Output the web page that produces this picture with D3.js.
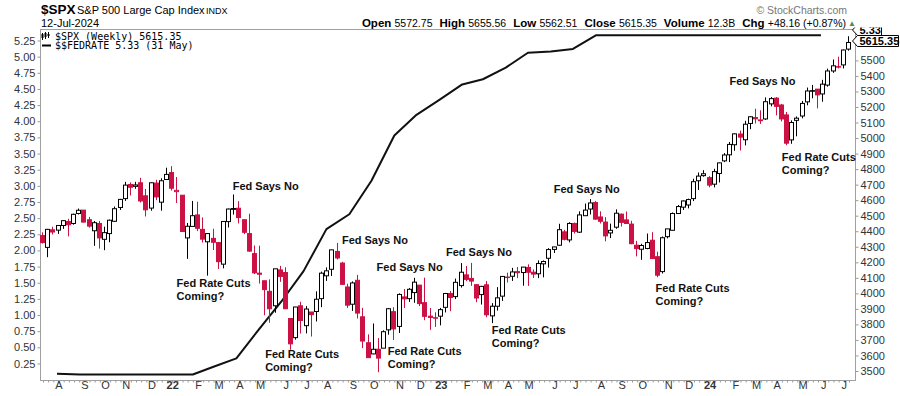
<!DOCTYPE html>
<html>
<head>
<meta charset="utf-8">
<script src="https://cdn.jsdelivr.net/npm/d3@7"></script>
<style>
  body { margin: 0; background: #fff; }
  svg { display: block; font-family: "Liberation Sans", Arial, sans-serif; }
</style>
</head>
<body>
<svg></svg>
<script>
// Weekly $SPX candles, Jul 12 2021 .. Jul 8 2024 (one entry per week)
const firstWeek = "2021-07-12";
const lastWeek = "2024-07-08";

const opens = [
  4372, 4296, 4409, 4407, 4437, 4462, 4450, 4514, 4536, 4474, 4403, 4450, 4348, 4385, 4464, 4553, 4610, 4701, 4689, 4712, 4628, 4549, 4710, 4587, 4733,
  4778, 4655, 4632, 4357, 4431, 4505, 4412, 4332, 4354, 4327, 4188, 4462, 4541, 4548, 4474, 4385, 4256, 4130, 4081, 4013, 3920, 4151, 4134, 3838, 3715, 3920,
  3792, 3880, 3883, 3966, 4113, 4155, 4270, 4195, 4041, 3930, 4084, 3849, 3682, 3610, 3640, 3647, 3765, 3882, 3787, 3977, 3966, 4005, 4053, 3940, 3853, 3843,
  3853, 3910, 3999, 3979, 4050, 4119, 4096, 4056, 3992, 4055, 3855, 3917, 3982, 4102, 4110, 4140, 4134, 4167, 4136, 4126, 4190, 4226, 4283, 4310, 4396, 4344,
  4450, 4394, 4500, 4543, 4585, 4492, 4459, 4389, 4426, 4510, 4473, 4446, 4310, 4284, 4289, 4342, 4236, 4140, 4365, 4406, 4514, 4555, 4569, 4610, 4725, 4758,
  4745, 4703, 4772, 4853, 4892, 4957, 5026, 4989, 5094, 5132, 5112, 5123, 5220, 5257, 5213, 5149, 4988, 5114, 5142, 5233, 5305, 5315, 5284, 5341, 5432, 5460,
  5471, 5572.75
];
const highs = [
  4393, 4415, 4429, 4440, 4470, 4480, 4513, 4546, 4536, 4492, 4466, 4466, 4429, 4475, 4559, 4608, 4718, 4714, 4718, 4744, 4672, 4713, 4731, 4741, 4809,
  4819, 4749, 4632, 4453, 4595, 4590, 4489, 4385, 4416, 4327, 4465, 4546, 4637, 4594, 4477, 4513, 4308, 4307, 4081, 4090, 4158, 4177, 4168, 3838, 3913, 3946,
  3918, 3880, 4013, 4140, 4167, 4281, 4325, 4203, 4062, 4077, 4119, 3907, 3736, 3806, 3712, 3762, 3906, 3911, 4000, 4028, 4034, 4100, 4053, 4101, 3906, 3878,
  3906, 4003, 4015, 4095, 4195, 4176, 4196, 4056, 4048, 4079, 3937, 4040, 4110, 4133, 4164, 4170, 4170, 4187, 4154, 4212, 4212, 4291, 4299, 4448, 4409, 4458,
  4456, 4528, 4578, 4607, 4595, 4528, 4491, 4449, 4541, 4514, 4527, 4467, 4338, 4319, 4385, 4394, 4268, 4366, 4415, 4521, 4569, 4598, 4610, 4738, 4778, 4793,
  4755, 4802, 4842, 4903, 4975, 5030, 5048, 5111, 5141, 5189, 5179, 5262, 5264, 5264, 5220, 5168, 5114, 5139, 5239, 5325, 5342, 5315, 5375, 5447, 5506, 5524,
  5570, 5655.56
];
const lows = [
  4321, 4233, 4379, 4383, 4415, 4367, 4442, 4508, 4456, 4423, 4306, 4288, 4278, 4329, 4460, 4537, 4595, 4630, 4673, 4585, 4495, 4532, 4600, 4532, 4733,
  4662, 4582, 4395, 4222, 4431, 4401, 4327, 4114, 4279, 4157, 4161, 4424, 4507, 4450, 4381, 4268, 4124, 4063, 3859, 3811, 3875, 4074, 3900, 3637, 3702, 3741,
  3742, 3722, 3819, 3911, 4080, 4112, 4218, 4057, 3906, 3887, 3838, 3647, 3584, 3608, 3492, 3647, 3734, 3699, 3745, 3906, 3945, 3939, 3918, 3827, 3765, 3784,
  3794, 3877, 3885, 3963, 4037, 4079, 4048, 3943, 3928, 3846, 3808, 3889, 3951, 4070, 4080, 4098, 4049, 4048, 4099, 4098, 4103, 4166, 4260, 4307, 4341, 4328,
  4385, 4389, 4500, 4508, 4474, 4450, 4335, 4356, 4416, 4430, 4448, 4316, 4238, 4216, 4284, 4223, 4104, 4128, 4354, 4406, 4513, 4537, 4547, 4594, 4666, 4751,
  4683, 4682, 4714, 4845, 4845, 4918, 4920, 4953, 5057, 5094, 5091, 5117, 5204, 5146, 5107, 4954, 4963, 5011, 5127, 5211, 5256, 5191, 5234, 5331, 5420, 5448,
  5448, 5562.51
];
const closes = [
  4327, 4412, 4395, 4437, 4468, 4442, 4509, 4535, 4459, 4433, 4455, 4357, 4391, 4471, 4545, 4605, 4697, 4683, 4698, 4595, 4538, 4712, 4621, 4725, 4766,
  4677, 4663, 4398, 4432, 4500, 4419, 4349, 4385, 4329, 4204, 4463, 4543, 4546, 4488, 4393, 4272, 4132, 4123, 4024, 3901, 4158, 4109, 3901, 3675, 3912, 3825,
  3899, 3863, 3962, 4130, 4145, 4280, 4228, 4058, 3924, 4067, 3873, 3693, 3586, 3640, 3583, 3753, 3901, 3771, 3993, 3965, 4026, 4072, 3934, 3852, 3845, 3840,
  3895, 3999, 3973, 4071, 4136, 4090, 4079, 3970, 4045, 3862, 3917, 3971, 4109, 4105, 4138, 4133, 4169, 4136, 4124, 4192, 4205, 4282, 4299, 4410, 4348, 4450,
  4399, 4505, 4536, 4582, 4478, 4464, 4370, 4406, 4516, 4457, 4450, 4320, 4288, 4308, 4327, 4224, 4117, 4358, 4415, 4514, 4559, 4595, 4604, 4719, 4755, 4770,
  4697, 4784, 4840, 4891, 4959, 5027, 5006, 5089, 5137, 5124, 5117, 5234, 5254, 5204, 5123, 4967, 5100, 5128, 5223, 5303, 5305, 5278, 5347, 5432, 5465, 5460,
  5567, 5615.35
];

// $$FEDRATE, monthly points
const rateDates = [
  "2021-07-31", "2021-08-31", "2021-09-30", "2021-10-31", "2021-11-30", "2021-12-31",
  "2022-01-31", "2022-02-28", "2022-03-31", "2022-04-30", "2022-05-31", "2022-06-30",
  "2022-07-31", "2022-08-31", "2022-09-30", "2022-10-31", "2022-11-30", "2022-12-31",
  "2023-01-31", "2023-02-28", "2023-03-31", "2023-04-30", "2023-05-31", "2023-06-30",
  "2023-07-31", "2023-08-31", "2023-09-30", "2023-10-31", "2023-11-30", "2023-12-31",
  "2024-01-31", "2024-02-29", "2024-03-31", "2024-04-30", "2024-05-31"
];
const rateValues = [
  0.09, 0.08, 0.08, 0.08, 0.08, 0.08,
  0.08, 0.20, 0.33, 0.77, 1.21, 1.68,
  2.33, 2.56, 3.08, 3.78, 4.10, 4.33,
  4.57, 4.65, 4.83, 5.06, 5.08, 5.12,
  5.33, 5.33, 5.33, 5.33, 5.33, 5.33,
  5.33, 5.33, 5.33, 5.33, 5.33
];

const rateTicks = [0.25, 0.5, 0.75, 1, 1.25, 1.5, 1.75, 2, 2.25, 2.5, 2.75, 3, 3.25, 3.5, 3.75, 4, 4.25, 4.5, 4.75, 5, 5.25];
const priceTicks = [3500, 3600, 3700, 3800, 3900, 4000, 4100, 4200, 4300, 4400, 4500, 4600, 4700, 4800, 4900, 5000, 5100, 5200, 5300, 5400, 5500];
const monthLetters = ["J", "F", "M", "A", "M", "J", "J", "A", "S", "O", "N", "D"];

// Annotations anchored at (date, price)
const noteDates = ["2022-03-26", "2022-01-09", "2022-08-21", "2022-05-09", "2022-10-07", "2022-10-22",
                   "2023-01-09", "2023-03-12", "2023-06-04", "2023-10-20", "2024-01-28", "2024-04-08"];
const notePrices = [4690, 4067, 4344, 3609, 4170, 3629, 4266, 3764, 4672, 4035, 5368, 4878];
const noteTexts = [
  ["Fed Says No"], ["Fed Rate Cuts", "Coming?"], ["Fed Says No"], ["Fed Rate Cuts", "Coming?"],
  ["Fed Says No"], ["Fed Rate Cuts", "Coming?"], ["Fed Says No"], ["Fed Rate Cuts", "Coming?"],
  ["Fed Says No"], ["Fed Rate Cuts", "Coming?"], ["Fed Says No"], ["Fed Rate Cuts", "Coming?"]
];

const headerItems = [["Open", "5572.75"], ["High", "5655.56"], ["Low", "5562.51"], ["Close", "5615.35"], ["Volume", "12.3B"], ["Chg", "+48.16 (+0.87%)"]];

function main() {
  const W = 900, H = 396;
  const red = "#cc1144";
  const frame = { l: 40.5, r: 855.5, t: 29.5, b: 380.5 };
  const parse = d3.timeParse("%Y-%m-%d");

  const weeks = d3.timeMonday.range(parse(firstWeek), d3.timeDay.offset(parse(lastWeek), 1));
  const bars = weeks.map((d, i) => ({ date: d, o: opens[i], h: highs[i], l: lows[i], c: closes[i], prev: i ? closes[i - 1] : opens[i] }));
  const weekIndex = date => (date - weeks[0]) / (7 * 864e5);

  const svg = d3.select("svg").attr("width", W).attr("height", H);

  // scales
  const x = d3.scaleLinear().domain([0, weeks.length - 1]).range([43, 849]);
  const yPrice = d3.scaleLinear().domain([3500, 5500]).range([371, 60.4]);
  const yRate = d3.scaleLinear().domain([0.25, 5.25]).range([363.5, 40.5]);

  // header
  svg.append("text").attr("x", 41).attr("y", 14).attr("font-size", 13.5).attr("font-weight", "bold").text("$SPX");
  svg.append("text").attr("x", 77).attr("y", 14).attr("font-size", 11).text("S&P 500 Large Cap Index");
  svg.append("text").attr("x", 206).attr("y", 14).attr("font-size", 9).text("INDX");
  svg.append("text").attr("x", 41).attr("y", 27).attr("font-size", 11).text("12-Jul-2024");
  svg.append("text").attr("x", 847).attr("y", 14).attr("font-size", 10.5).attr("fill", "#777")
    .attr("text-anchor", "end").text("\u00a9 StockCharts.com");

  const hdr = svg.append("text").attr("x", 846).attr("y", 27).attr("font-size", 11).attr("text-anchor", "end");
  headerItems.forEach(([k, v], i) => {
    hdr.append("tspan").attr("font-weight", "bold").attr("font-size", 11.5).attr("dx", i ? 7 : 0).text(k + " ");
    hdr.append("tspan").attr("font-size", 10.5).text(v);
  });
  svg.append("text").attr("x", 852).attr("y", 26).attr("font-size", 8).attr("fill", "#4d8f4d")
    .attr("text-anchor", "middle").text("\u25b2");

  // frame
  svg.append("rect")
    .attr("x", frame.l).attr("y", frame.t)
    .attr("width", frame.r - frame.l).attr("height", frame.b - frame.t)
    .attr("fill", "none").attr("stroke", "#a0a0a0");

  // left axis (rate)
  const axL = svg.append("g").attr("transform", `translate(${frame.l},0)`)
    .call(d3.axisLeft(yRate).tickValues(rateTicks).tickFormat(d3.format(".2f")).tickSize(3).tickPadding(2));
  // right axis (price)
  const axR = svg.append("g").attr("transform", `translate(${frame.r},0)`)
    .call(d3.axisRight(yPrice).tickValues(priceTicks).tickFormat(d3.format("d")).tickSize(3).tickPadding(2));
  // bottom axis: weekly minor ticks + month labels
  const monthStarts = d3.range(1, weeks.length).filter(i => weeks[i].getMonth() !== weeks[i - 1].getMonth());
  svg.append("g").attr("transform", `translate(0,${frame.b})`)
    .call(d3.axisBottom(x).tickValues(d3.range(weeks.length)).tickFormat("").tickSize(2));
  const axB = svg.append("g").attr("transform", `translate(0,${frame.b})`)
    .call(d3.axisBottom(x).tickValues(monthStarts).tickSize(0).tickPadding(1)
      .tickFormat(i => weeks[i].getMonth() === 0 ? d3.timeFormat("%y")(weeks[i]) : monthLetters[weeks[i].getMonth()]));
  axB.selectAll("text").filter(i => weeks[i].getMonth() === 0).attr("font-weight", "bold");

  [axL, axR, axB].forEach(g => {
    g.attr("font-family", null).attr("font-size", 11);
    g.selectAll("text").attr("fill", "#333");
  });
  svg.selectAll(".domain").remove();
  svg.selectAll(".tick line").attr("stroke", "#999");

  // rate line
  const line = d3.line()
    .x(d => x(weekIndex(d.date)))
    .y(d => yRate(d.v));
  const rates = rateDates.map((d, i) => ({ date: parse(d), v: rateValues[i] }));
  svg.append("path").datum(rates)
    .attr("d", line)
    .attr("fill", "none").attr("stroke", "#111").attr("stroke-width", 2).attr("stroke-linejoin", "round");

  // candles
  const color = d => d.c >= d.prev ? "#000" : red;
  const cx = (d, i) => Math.round(x(i));
  const candles = svg.append("g").selectAll("g").data(bars).enter().append("g");
  candles.append("line")
    .attr("x1", (d, i) => cx(d, i) - 0.5).attr("x2", (d, i) => cx(d, i) - 0.5)
    .attr("y1", d => yPrice(d.h)).attr("y2", d => yPrice(d.l))
    .attr("stroke", color);
  candles.append("rect")
    .attr("x", (d, i) => cx(d, i) - 2.5)
    .attr("y", d => yPrice(Math.max(d.o, d.c)))
    .attr("width", 4)
    .attr("height", d => Math.max(0.5, Math.abs(yPrice(d.o) - yPrice(d.c))))
    .attr("fill", d => d.c > d.o ? "#fff" : color(d))
    .attr("stroke", color);

  // annotations
  const notes = svg.append("g").attr("font-size", 11).attr("font-weight", "bold").attr("fill", "#111");
  noteTexts.forEach((lines, k) => {
    const t = notes.append("text")
      .attr("x", x(weekIndex(parse(noteDates[k]))))
      .attr("y", yPrice(notePrices[k]) + 4);
    lines.forEach((s, j) => t.append("tspan").attr("x", t.attr("x")).attr("dy", j ? 13.4 : 0).text(s));
  });

  // legend
  const lg = svg.append("g").attr("font-family", "DejaVu Sans Mono, monospace").attr("font-size", 10);
  [[42.5, 34, 38, 33, 40], [45.5, 33, 37, 32, 39], [48.5, 34, 36, 32, 38]].forEach(([lx, b0, b1, w0, w1]) => {
    lg.append("line").attr("x1", lx).attr("x2", lx).attr("y1", w0).attr("y2", w1).attr("stroke", "#000");
    lg.append("rect").attr("x", lx - 1).attr("y", b0).attr("width", 2).attr("height", b1 - b0).attr("fill", "#000");
  });
  lg.append("text").attr("x", 55).attr("y", 39.5).text(`$SPX (Weekly) ${closes[closes.length - 1]}`);
  lg.append("line").attr("x1", 42).attr("x2", 51).attr("y1", 45.5).attr("y2", 45.5).attr("stroke", "#000").attr("stroke-width", 2);
  lg.append("text").attr("x", 55).attr("y", 49).text(`$$FEDRATE ${rateValues[rateValues.length - 1]} (31 May)`);

  // value tags on the right
  svg.append("clipPath").attr("id", "tagclip")
    .append("rect").attr("x", 840).attr("y", 27.5).attr("width", 60).attr("height", 100);
  const tags = svg.append("g").attr("clip-path", "url(#tagclip)").attr("font-size", 11).attr("font-weight", "bold");
  const priceY = yPrice(closes[closes.length - 1]) - 1.5;
  const rateY = Math.min(yRate(rateValues[rateValues.length - 1]), priceY - 11);
  const tag = (cy, label, w) => {
    tags.append("path")
      .attr("d", `M852.5,${cy} L857.5,${cy - 5.5} L${857.5 + w},${cy - 5.5} L${857.5 + w},${cy + 5.5} L857.5,${cy + 5.5} Z`)
      .attr("fill", "#fff").attr("stroke", "#000");
    tags.append("text").attr("x", 859.5).attr("y", cy + 4).text(label);
  };
  tag(rateY, rateValues[rateValues.length - 1], 24);
  tag(priceY, closes[closes.length - 1], 41);
}
main();
</script>
</body>
</html>
